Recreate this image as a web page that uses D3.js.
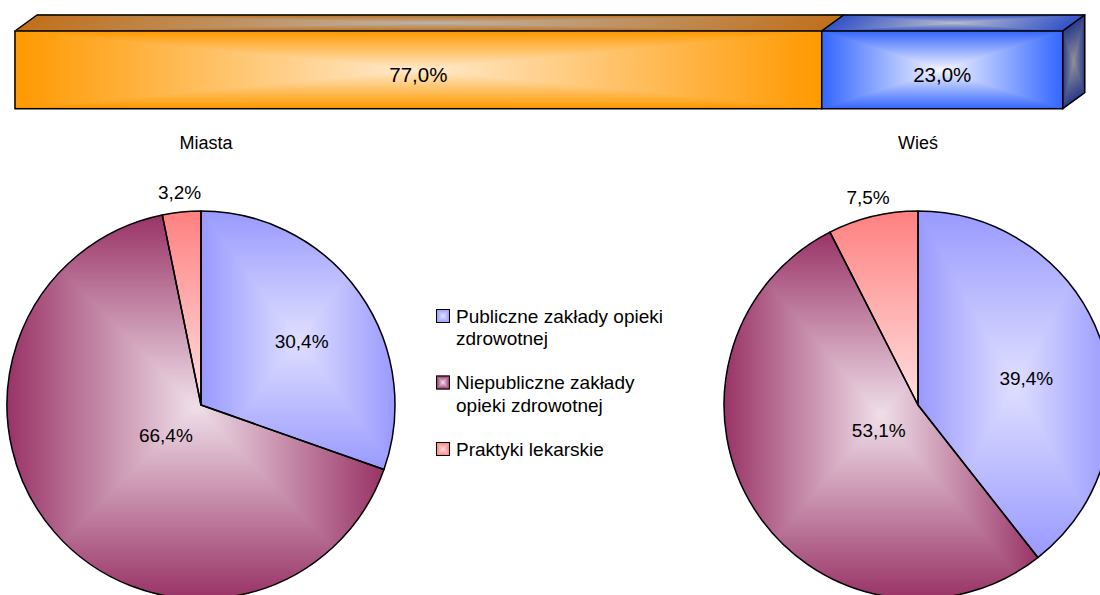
<!DOCTYPE html>
<html><head><meta charset="utf-8">
<script src="https://cdn.jsdelivr.net/npm/d3@7"></script>
<style>
body{margin:0;background:#fff}
svg{display:block}
text{font-family:"Liberation Sans",Arial,Helvetica,sans-serif;fill:#000}
</style>
</head><body>
<svg id="c" width="1100" height="595"></svg>
<script>
// ---------- data ----------
const barCategories = ["Miasta", "Wieś"];
const barValues = [77.0, 23.0];
const barLabels = ["77,0%", "23,0%"];
const pieTitles = ["Miasta", "Wieś"];
const sliceCategories = ["Publiczne zakłady opieki zdrowotnej", "Niepubliczne zakłady opieki zdrowotnej", "Praktyki lekarskie"];
const legendLines = [["Publiczne zakłady opieki", "zdrowotnej"], ["Niepubliczne zakłady", "opieki zdrowotnej"], ["Praktyki lekarskie"]];
const miastaValues = [30.4, 66.4, 3.2];
const miastaLabels = ["30,4%", "66,4%", "3,2%"];
const wiesValues = [39.4, 53.1, 7.5];
const wiesLabels = ["39,4%", "53,1%", "7,5%"];

// ---------- styles ----------
const barStyles = [
  {edge: "#ff9900", center: "#ffeacd", topEdge: "#c0701c", topCenter: "#bdb2a6"},
  {edge: "#3366ff", center: "#f6f6ff", topEdge: "#3352c8", topCenter: "#b8bccb", sideEdge: "#2b3b8a", sideCenter: "#909098"}
];
const sliceStyles = [
  {type: "rect", edge: "#9999ff", center: "#dfdfff"},
  {type: "rect", edge: "#993366", center: "#efdfe9"},
  {type: "linear", edge: "#ff8080", center: "#ffe0e0"}
];

const svg = d3.select("#c");
const defs = svg.append("defs");
let gid = 0;

function linGrad(x1, y1, x2, y2, c0, c1) {
  const id = "lg" + (gid++);
  const lg = defs.append("linearGradient").attr("id", id)
    .attr("gradientUnits", "userSpaceOnUse")
    .attr("x1", x1).attr("y1", y1).attr("x2", x2).attr("y2", y2);
  lg.append("stop").attr("offset", 0).attr("stop-color", c0);
  lg.append("stop").attr("offset", 1).attr("stop-color", c1);
  return "url(#" + id + ")";
}

// rectangular "from center" gradient made from four triangles
function rectGradient(parent, x0, y0, x1, y1, edge, center) {
  const cx = (x0 + x1) / 2, cy = (y0 + y1) / 2;
  parent.append("rect").attr("x", x0).attr("y", y0)
    .attr("width", x1 - x0).attr("height", y1 - y0)
    .attr("fill", d3.interpolateRgb(edge, center)(0.5));
  const tris = [
    {pts: [[x0, y0], [x1, y0], [cx, cy]], g: [cx, y0, cx, cy]},
    {pts: [[x0, y1], [x1, y1], [cx, cy]], g: [cx, y1, cx, cy]},
    {pts: [[x0, y0], [x0, y1], [cx, cy]], g: [x0, cy, cx, cy]},
    {pts: [[x1, y0], [x1, y1], [cx, cy]], g: [x1, cy, cx, cy]}
  ];
  tris.forEach(t => {
    const f = linGrad(t.g[0], t.g[1], t.g[2], t.g[3], edge, center);
    parent.append("path").attr("d", "M" + t.pts.map(p => p.join(",")).join("L") + "Z")
      .attr("fill", f).attr("stroke", f).attr("stroke-width", 1);
  });
}

// ---------- 3D stacked bar ----------
const barX = d3.scaleLinear().domain([0, 100]).range([15, 1062.7]);
const barTop = 31, barH = 77.7, depthX = 22, depthY = 16;
const stacked = [];
barValues.reduce((acc, v, i) => { stacked.push({i, v, x0: acc, x1: acc + v}); return acc + v; }, 0);
const barG = svg.append("g");

stacked.forEach(s => {
  const st = barStyles[s.i];
  const xa = barX(s.x0), xb = barX(s.x1);
  const tg = barG.append("g")
    .attr("transform", `matrix(1,0,${-depthX / depthY},1,${depthX},${barTop - depthY})`);
  rectGradient(tg, xa, 0, xb, depthY, st.topEdge, st.topCenter);
  barG.append("path")
    .attr("d", `M${xa},${barTop}L${xa + depthX},${barTop - depthY}L${xb + depthX},${barTop - depthY}L${xb},${barTop}Z`)
    .attr("fill", "none").attr("stroke", "#000").attr("stroke-width", 1.5).attr("stroke-linejoin", "round");
});
{
  const last = stacked[stacked.length - 1];
  const st = barStyles[last.i];
  const xb = barX(last.x1);
  const sg = barG.append("g")
    .attr("transform", `matrix(1,${-depthY / depthX},0,1,${xb},${barTop})`);
  rectGradient(sg, 0, 0, depthX, barH, st.sideEdge, st.sideCenter);
  barG.append("path")
    .attr("d", `M${xb},${barTop}L${xb + depthX},${barTop - depthY}L${xb + depthX},${barTop + barH - depthY}L${xb},${barTop + barH}Z`)
    .attr("fill", "none").attr("stroke", "#000").attr("stroke-width", 1.5).attr("stroke-linejoin", "round");
}
stacked.forEach(s => {
  const st = barStyles[s.i];
  const xa = barX(s.x0), xb = barX(s.x1);
  const fg = barG.append("g");
  rectGradient(fg, xa, barTop, xb, barTop + barH, st.edge, st.center);
  barG.append("rect").attr("x", xa).attr("y", barTop).attr("width", xb - xa).attr("height", barH)
    .attr("fill", "none").attr("stroke", "#000").attr("stroke-width", 1.5);
  barG.append("text").attr("x", (xa + xb) / 2).attr("y", barTop + barH / 2 + 12.3)
    .attr("text-anchor", "middle").style("font-size", "20.5px").text(barLabels[s.i]);
});

// ---------- pies ----------
const R = 194;
const pies = [
  {cx: 201, cy: 405, values: miastaValues, labels: miastaLabels, title: pieTitles[0]},
  {cx: 918, cy: 405, values: wiesValues, labels: wiesLabels, title: pieTitles[1]}
];
const pieGen = d3.pie().sort(null).value(d => d);
const arc = d3.arc().innerRadius(0).outerRadius(R);

pies.forEach((p, pi) => {
  const g = svg.append("g").attr("transform", `translate(${p.cx},${p.cy})`);
  const arcs = pieGen(p.values);
  const boxes = [];
  arcs.forEach((a, i) => {
    const st = sliceStyles[i];
    const d = arc(a);
    const cid = "clip" + pi + "_" + i;
    defs.append("clipPath").attr("id", cid).append("path").attr("d", d);
    const tmp = g.append("path").attr("d", d).attr("fill", "none");
    const bb = tmp.node().getBBox();
    tmp.remove();
    boxes.push(bb);
    const sg = g.append("g").attr("clip-path", `url(#${cid})`);
    if (st.type === "rect") {
      rectGradient(sg, bb.x, bb.y, bb.x + bb.width, bb.y + bb.height, st.edge, st.center);
    } else {
      sg.append("rect").attr("x", bb.x - 2).attr("y", bb.y - 2)
        .attr("width", bb.width + 4).attr("height", bb.height + 4)
        .attr("fill", linGrad(0, bb.y, 0, bb.y + bb.height, st.edge, st.center));
    }
  });
  g.selectAll("path.outline").data(arcs).enter().append("path").attr("class", "outline")
    .attr("d", arc).attr("fill", "none").attr("stroke", "#000").attr("stroke-width", 1.5)
    .attr("stroke-linejoin", "round");
  // labels
  arcs.forEach((a, i) => {
    const f = (a.endAngle - a.startAngle) / (2 * Math.PI);
    const mid = (a.startAngle + a.endAngle) / 2;
    let x, y;
    if (f < 0.1) {
      const r = R + 20;
      x = r * Math.sin(mid); y = -r * Math.cos(mid);
    } else if (f < 0.5) {
      const r = R * 0.62, bb = boxes[i];
      x = (r * Math.sin(mid) + bb.x + bb.width / 2) / 2 + 3;
      y = (-r * Math.cos(mid) + bb.y + bb.height / 2) / 2 + 3;
    } else {
      const r = R * 0.24;
      x = r * Math.sin(mid); y = -r * Math.cos(mid);
    }
    g.append("text").attr("x", x).attr("y", y)
      .attr("dy", "0.35em").attr("text-anchor", "middle").style("font-size", "19px")
      .text(p.labels[i]);
  });
  svg.append("text").attr("x", p.cx + (pi === 0 ? 5 : 0)).attr("y", 149)
    .attr("text-anchor", "middle").style("font-size", "18px").text(p.title);
});

// ---------- legend ----------
const legend = svg.append("g");
sliceCategories.forEach((c, i) => {
  const st = sliceStyles[i];
  const base = 322.7 + i * 66.5;
  const sw = legend.append("g");
  const x0 = 436.5, y0 = base - 13.2, s = 13;
  rectGradient(sw, x0, y0, x0 + s, y0 + s, st.edge, st.center);
  sw.append("rect").attr("x", x0).attr("y", y0).attr("width", s).attr("height", s)
    .attr("fill", "none").attr("stroke", "#000").attr("stroke-width", 1);
  const t = legend.append("text").attr("x", 456).attr("y", base).style("font-size", "19px");
  legendLines[i].forEach((ln, k) => {
    t.append("tspan").attr("x", 456).attr("y", base + k * 22.5).text(ln);
  });
});
</script>
</body></html>
